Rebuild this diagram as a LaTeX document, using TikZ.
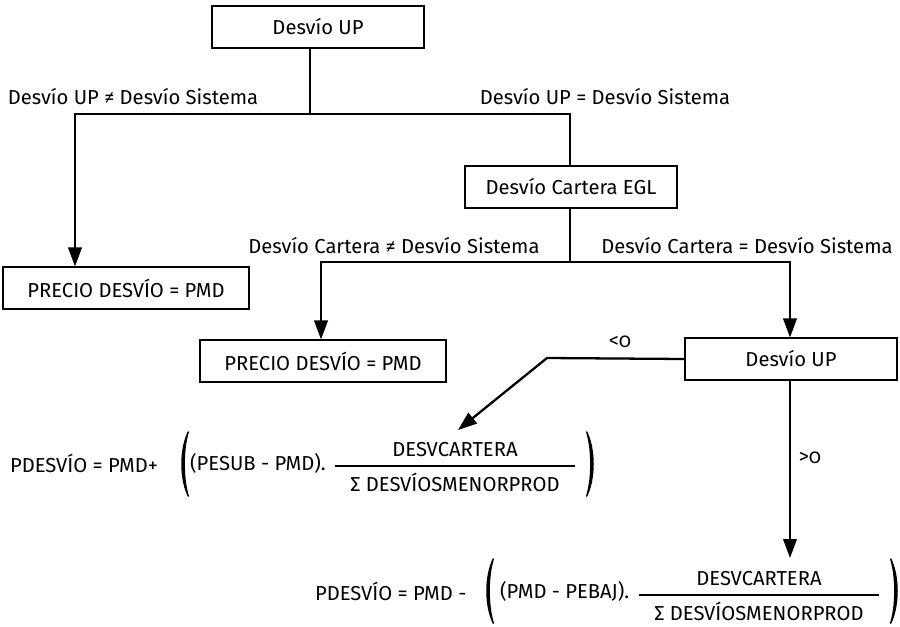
\documentclass[tikz,border=0pt]{standalone}
\usepackage{fontspec}
\usepackage{amsmath}
\setmainfont{Fira Sans}[Numbers=OldStyle]
\usetikzlibrary{arrows.meta,positioning}

\newcommand{\fracbox}[2]{$\genfrac{}{}{1.2pt}{0}{\text{#1}}{\text{\hspace{0.3cm}#2\hspace{0.3cm}}}$}

\tikzset{
  box/.style={draw, line width=0.6pt, minimum width=4.24cm, minimum height=0.84cm, inner sep=2pt},
  wide/.style={minimum width=4.92cm},
  line/.style={line width=1.3pt},
  arr/.style={line width=1.3pt, -{Triangle[length=0.38cm, width=0.27cm]}},
  lbl/.style={inner sep=1pt},
  paren/.pic={
    \fill (4,-33) .. controls (-5,-15) and (-5,15) .. (4,33)
      -- (5,32) .. controls (-0.5,15) and (-0.5,-15) .. (5,-32) -- cycle;
  }
}

\begin{document}
\begin{tikzpicture}[x=0.02cm, y=-0.02cm, font=\fontsize{11.5}{14}\selectfont]
  \useasboundingbox (0,0) rectangle (900,626);
  % boxes
  \node[box] (up) at (318,27) {Desvío UP};
  \node[box, wide] (pmdA) at (126,288) {PRECIO DESVÍO = PMD};
  \node[box] (egl) at (571,187) {Desvío Cartera EGL};
  \node[box, wide] (pmdB) at (323,361) {PRECIO DESVÍO = PMD};
  \node[box] (upB) at (791,359) {Desvío UP};
  % first split: UP against system
  \coordinate (s1) at (310,114);
  \coordinate (s1l) at (75,114);
  \coordinate (s1r) at (570,114);
  \draw[line] (up.south -| s1) -- (s1);
  \draw[arr] (s1) -- (s1l) -- (s1l |- pmdA.north);
  \draw[line] (s1) -- (s1r) -- (s1r |- egl.north);
  \node[lbl] (neqA) at (133,97) {Desvío UP ≠ Desvío Sistema};
  \node[lbl] (eqA) at (605,97) {Desvío UP = Desvío Sistema};
  % second split: portfolio against system
  \coordinate (s2) at (570,262);
  \coordinate (s2l) at (321,262);
  \coordinate (s2r) at (790,262);
  \draw[line] (egl.south -| s2) -- (s2);
  \draw[arr] (s2) -- (s2l) -- (s2l |- pmdB.north);
  \draw[arr] (s2) -- (s2r) -- (s2r |- upB.north);
  \node[lbl] (neqB) at (394,246) {Desvío Cartera ≠ Desvío Sistema};
  \node[lbl] (eqB) at (747,246) {Desvío Cartera = Desvío Sistema};
  % sign of the UP deviation
  \coordinate (k) at (547,358);
  \coordinate (tipL) at (458,430);
  \coordinate (tipR) at (790,558);
  \draw[arr] (upB.west) -- (k) -- (tipL);
  \draw[arr] (upB.south -| tipR) -- (tipR);
  \node[lbl] (lt) at (620,342) {<0};
  \node[lbl] (gt) at (810,458) {>0};
  % price formulas
  \node[lbl, anchor=west] (fA) at (8,463) {PDESVÍO = PMD+};
  \pic at (184,464) {paren};
  \node[lbl, anchor=west] (fAm) at (188,463) {(PESUB - PMD).};
  \node[inner sep=0] (fAf) at (455,467) {\fracbox{DESVCARTERA}{Σ DESVÍOSMENORPROD}};
  \pic[xscale=-1] at (591,464) {paren};
  \node[lbl, anchor=west] (fB) at (313,591) {PDESVÍO = PMD -};
  \pic at (489,591) {paren};
  \node[lbl, anchor=west] (fBm) at (498,591) {(PMD - PEBAJ).};
  \node[inner sep=0] (fBf) at (759,596) {\fracbox{DESVCARTERA}{Σ DESVÍOSMENORPROD}};
  \pic[xscale=-1] at (895,591) {paren};
\end{tikzpicture}
\end{document}
